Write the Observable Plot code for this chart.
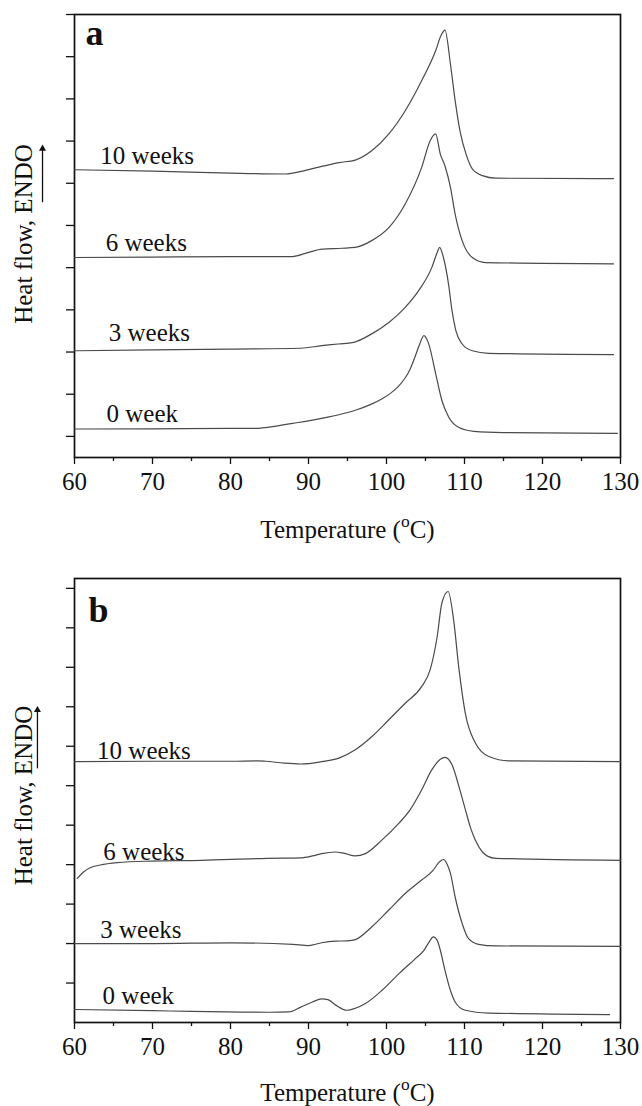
<!DOCTYPE html>
<html><head><meta charset="utf-8">
<script src="https://cdn.jsdelivr.net/npm/d3@7"></script>
<script src="https://cdn.jsdelivr.net/npm/@observablehq/plot@0.6"></script>
<style>body{margin:0;background:#fff} #chart svg{display:block}</style>
</head><body><div id="chart"></div>
<script>
// ---- axis ticks ----
const xTicks = [60, 70, 80, 90, 100, 110, 120, 130];
const xMinorTicks = [65, 75, 85, 95, 105, 115, 125];
const yTicks = [0, 1, 2, 3, 4, 5, 6, 7, 8, 9, 10];

// ---- panel a ----
const tA0 = [60, 70, 80, 83, 84.5, 86, 88, 90, 92, 94, 96, 98, 99.5, 100.5, 101.5, 102.3, 103, 103.6, 104.2, 104.8, 105.4, 106.3, 107.1, 108, 109.3, 111.2, 115, 129.6];
const hA0 = [0.175, 0.18, 0.19, 0.19, 0.21, 0.25, 0.31, 0.37, 0.44, 0.52, 0.62, 0.76, 0.90, 1.02, 1.18, 1.36, 1.58, 1.86, 2.16, 2.39, 2.2, 1.49, 0.85, 0.45, 0.21, 0.12, 0.09, 0.07];
const tA3 = [60, 70, 80, 89, 91.7, 93.8, 95.8, 98.1, 100.3, 102.4, 104.1, 105.8, 106.5, 106.8, 107.3, 108, 108.4, 108.9, 109.7, 111, 113.1, 129.1];
const hA3 = [2.03, 2.05, 2.07, 2.09, 2.15, 2.19, 2.23, 2.43, 2.70, 3.06, 3.45, 4.0, 4.36, 4.48, 4.24, 3.55, 2.98, 2.50, 2.19, 2.03, 1.97, 1.94];
const tA6 = [60, 70, 80, 87.7, 90, 91.7, 94.3, 96, 98.1, 100.3, 102.4, 104.5, 105.6, 106.3, 106.9, 107.5, 108.2, 108.8, 109.7, 111, 112.7, 129.1];
const hA6 = [4.24, 4.25, 4.26, 4.26, 4.36, 4.44, 4.46, 4.48, 4.64, 4.95, 5.51, 6.37, 7.01, 7.17, 6.69, 6.41, 5.90, 5.27, 4.64, 4.24, 4.12, 4.09];
const tA10 = [60, 70, 80, 87, 89.5, 91.7, 93.9, 96, 98.1, 100.3, 102.4, 104.5, 106.3, 107, 107.5, 108.2, 108.8, 109.5, 110.2, 111, 112.3, 114, 129.1];
const hA10 = [6.32, 6.29, 6.24, 6.22, 6.30, 6.40, 6.49, 6.55, 6.77, 7.17, 7.72, 8.43, 9.14, 9.51, 9.63, 8.82, 7.96, 7.17, 6.69, 6.34, 6.18, 6.12, 6.11];

// ---- panel b ----
const tB0 = [60, 70, 75, 85, 87.5, 89, 90.5, 91.7, 92.5, 93.5, 94.9, 96, 97.3, 99.4, 101.6, 103.7, 104.8, 105.5, 106, 106.5, 106.9, 107.5, 108.2, 108.8, 110.1, 113.1, 128.6];
const hB0 = [-0.67, -0.70, -0.72, -0.74, -0.73, -0.61, -0.48, -0.40, -0.42, -0.56, -0.69, -0.64, -0.52, -0.19, 0.24, 0.62, 0.83, 1.05, 1.17, 1.08, 0.83, 0.32, -0.19, -0.48, -0.69, -0.76, -0.80];
const tB3 = [60, 70, 80, 88, 90, 91.7, 93.4, 95, 96, 98.1, 100.3, 102.4, 104.5, 106, 106.7, 107.3, 107.8, 108.2, 108.8, 109.7, 110.5, 111.8, 114, 130];
const hB3 = [1.00, 1.00, 1.02, 0.98, 0.95, 1.02, 1.06, 1.07, 1.10, 1.42, 1.85, 2.27, 2.61, 2.86, 3.05, 3.13, 3.0, 2.78, 2.18, 1.51, 1.13, 0.98, 0.94, 0.93];
const tB6 = [60.35, 61.2, 62, 63.3, 65.5, 69.8, 76.2, 84.7, 89, 90.5, 91.7, 93.4, 94.5, 96, 97.3, 99.4, 101.6, 103, 104.5, 105.8, 106.9, 107.5, 108.4, 109.3, 110.1, 110.8, 111.4, 112.3, 113, 114, 130];
const hB6 = [2.65, 2.82, 2.92, 2.99, 3.05, 3.09, 3.11, 3.16, 3.17, 3.22, 3.28, 3.32, 3.29, 3.22, 3.28, 3.62, 4.05, 4.38, 4.89, 5.40, 5.67, 5.72, 5.53, 4.97, 4.40, 3.92, 3.62, 3.32, 3.21, 3.16, 3.11];
const tB10 = [60, 70, 80, 83.5, 84.5, 86.9, 89, 91.7, 93.9, 96, 98.1, 100.3, 102.4, 104.5, 105.6, 106.5, 107.1, 107.9, 108.6, 109.3, 110.1, 111.4, 113.1, 115.7, 130];
const hB10 = [5.61, 5.62, 5.62, 5.63, 5.62, 5.57, 5.55, 5.61, 5.70, 5.91, 6.24, 6.67, 7.09, 7.51, 7.94, 8.78, 9.63, 9.92, 9.21, 7.94, 6.84, 6.08, 5.74, 5.63, 5.61];

// ---- annotations ----
const weekLabels = ["10 weeks", "6 weeks", "3 weeks", "0 week"];
const labelAX = [63.3, 64.0, 64.4, 64.1];
const labelAY = [6.46, 4.40, 2.27, 0.33];
const labelBX = [62.9, 63.7, 63.3, 63.6];
const labelBY = [5.67, 3.13, 1.13, -0.52];

function rows(name, t, h) { return t.map((x, i) => ({series: name, T: x, H: h[i]})); }

function panel({lines, lx, ly, letter, letterX, letterY, arrow, height, mt, mb, yDomain, yLabelDy, xLabelDy}) {
  const labels = weekLabels.map((s, i) => ({s, x: lx[i], y: ly[i]}));
  const svg = Plot.plot({
    width: 642, height, marginTop: mt, marginBottom: mb, marginLeft: 74, marginRight: 22,
    style: {fontFamily: "'Liberation Serif', 'Times New Roman', serif", fontSize: "25px", background: "#fff", color: "#111"},
    x: {domain: [60, 130], label: null},
    y: {domain: yDomain, label: null},
    marks: [
      Plot.axisX(xTicks, {tickSize: 7, tickPadding: 8, strokeWidth: 1.3, fontSize: 25}),
      Plot.axisX(xMinorTicks, {tickSize: 4, tickFormat: () => "", strokeWidth: 1.3}),
      Plot.axisY(yTicks, {tickSize: 8, tickFormat: () => "", strokeWidth: 1.3}),
      Plot.frame({stroke: "#111", strokeWidth: 1.7}),
      ...lines.map(d => Plot.line(d, {x: "T", y: "H", stroke: "#4a4a4a", strokeWidth: 1.2, curve: "monotone-x"})),
      Plot.text(labels, {x: "x", y: "y", text: "s", textAnchor: "start", lineAnchor: "bottom", fontSize: 25, fill: "#111"}),
      Plot.text([letter], {x: () => letterX, y: () => letterY, text: d => d, textAnchor: "start", lineAnchor: "bottom", fontSize: 36, fontWeight: "bold", fill: "#111"}),
      Plot.link([arrow], {x1: "x", x2: "x", y1: "y1", y2: "y2", stroke: "#111", strokeWidth: 1.3}),
      Plot.dot([arrow], {x: "x", y: "y2", symbol: "triangle", r: 2.6, fill: "#111", stroke: null}),
      Plot.text(["Heat flow, ENDO"], {text: d => d, frameAnchor: "left", rotate: -90, dx: -51, dy: yLabelDy, fontSize: 25, textAnchor: "middle", lineAnchor: "middle", fill: "#111"}),
      Plot.text(["Temperature (oC)"], {text: d => d, frameAnchor: "bottom", dy: xLabelDy, fontSize: 25, textAnchor: "middle", lineAnchor: "bottom", fill: "#111"})
    ]
  });
  d3.select(svg).selectAll("text").filter(function () { return this.textContent === "Temperature (oC)"; })
    .each(function () {
      const t = d3.select(this);
      t.text(null);
      t.append("tspan").text("Temperature (");
      t.append("tspan").attr("dy", "-0.6em").attr("font-size", "0.7em").text("o");
      t.append("tspan").attr("dy", "0.42em").text("C)");
    });
  return svg;
}

const chart = document.getElementById("chart");
chart.appendChild(panel({
  lines: [rows("0 week", tA0, hA0), rows("3 weeks", tA3, hA3), rows("6 weeks", tA6, hA6), rows("10 weeks", tA10, hA10)],
  lx: labelAX, ly: labelAY, letter: "a", letterX: 61.4, letterY: 9.28,
  arrow: {x: 55.9, y1: 5.55, y2: 6.82},
  height: 560, mt: 14, mb: 103, yDomain: [-0.5, 10], yLabelDy: -2, xLabelDy: 80
}));
chart.appendChild(panel({
  lines: [rows("0 week", tB0, hB0), rows("3 weeks", tB3, hB3), rows("6 weeks", tB6, hB6), rows("10 weeks", tB10, hB10)],
  lx: labelBX, ly: labelBY, letter: "b", letterX: 61.8, letterY: 9.16,
  arrow: {x: 55.25, y1: 5.44, y2: 6.92},
  height: 546, mt: 18, mb: 84, yDomain: [-1, 10.25], yLabelDy: -5, xLabelDy: 78
}));
</script>
</body></html>
